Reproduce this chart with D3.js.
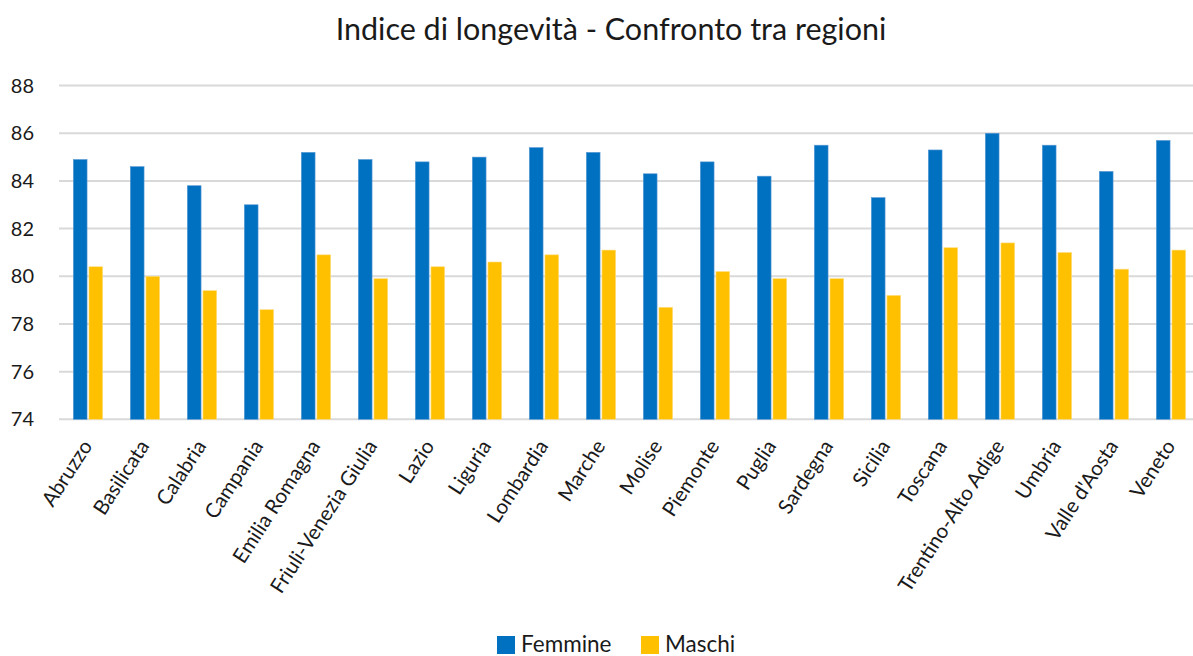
<!DOCTYPE html>
<html>
<head>
<meta charset="utf-8">
<script src="https://cdn.jsdelivr.net/npm/d3@7"></script>
<style>
  body { margin: 0; background: #fff; }
  text { font-family: Lato, "Open Sans", sans-serif; fill: #1a1a1a; }
</style>
</head>
<body>
<script>
// Indice di longevità per regione
var regions = ["Abruzzo", "Basilicata", "Calabria", "Campania", "Emilia Romagna",
  "Friuli-Venezia Giulia", "Lazio", "Liguria", "Lombardia", "Marche", "Molise",
  "Piemonte", "Puglia", "Sardegna", "Sicilia", "Toscana", "Trentino-Alto Adige",
  "Umbria", "Valle d'Aosta", "Veneto"];
var femmine = [84.9, 84.6, 83.8, 83.0, 85.2, 84.9, 84.8, 85.0, 85.4, 85.2, 84.3,
  84.8, 84.2, 85.5, 83.3, 85.3, 86.0, 85.5, 84.4, 85.7];
var maschi = [80.4, 80.0, 79.4, 78.6, 80.9, 79.9, 80.4, 80.6, 80.9, 81.1, 78.7,
  80.2, 79.9, 79.9, 79.2, 81.2, 81.4, 81.0, 80.3, 81.1];
var yTicks = [74, 76, 78, 80, 82, 84, 86, 88];
var seriesNames = ["Femmine", "Maschi"];
var colors = ["#0070C0", "#FFC000"];

var width = 1193, height = 656;
var svg = d3.select('body').append('svg')
  .attr('width', width)
  .attr('height', height);

var xScale = d3.scaleBand()
  .domain(regions)
  .range([59.5, 1199.5]);

var yScale = d3.scaleLinear()
  .domain([74, 88])
  .range([419.3, 85.6]);

var subScale = d3.scaleBand()
  .domain(seriesNames)
  .range([-14.7, 14.7])
  .paddingInner(0.12);

// gridlines
svg.append('g')
  .selectAll('line')
  .data(yTicks)
  .enter()
  .append('line')
  .attr('x1', 59)
  .attr('x2', width)
  .attr('y1', function(d) { return yScale(d); })
  .attr('y2', function(d) { return yScale(d); })
  .attr('stroke', '#d9d9d9')
  .attr('stroke-width', 2);

// y axis labels
var yAxis = d3.axisLeft(yScale).tickValues(yTicks).tickSize(0).tickPadding(0);
var yAxisNodes = svg.append('g')
  .attr('transform', 'translate(34,0)')
  .call(yAxis);
yAxisNodes.select('.domain').remove();
yAxisNodes.selectAll('text')
  .attr('font-size', 20)
  .attr('font-family', 'Lato, sans-serif')
  .attr('fill', '#1a1a1a');

// bars
var seriesData = [femmine, maschi];
seriesData.forEach(function(values, si) {
  svg.append('g')
    .selectAll('rect')
    .data(values)
    .enter()
    .append('rect')
    .attr('x', function(d, i) {
      return xScale(regions[i]) + xScale.bandwidth() / 2 + subScale(seriesNames[si]);
    })
    .attr('y', function(d) { return yScale(d); })
    .attr('width', subScale.bandwidth())
    .attr('height', function(d) { return yScale(74) - yScale(d); })
    .attr('fill', colors[si])
    .attr('stroke', si === 0 ? '#5b9bd5' : '#ffe08a')
    .attr('stroke-width', 0.6);
});

// x axis labels
var xAxis = d3.axisBottom(xScale).tickSize(0).tickPadding(0);
var xAxisNodes = svg.append('g')
  .attr('transform', 'translate(0,' + 442 + ')')
  .call(xAxis);
xAxisNodes.select('.domain').remove();
xAxisNodes.selectAll('text')
  .attr('font-size', 20.5)
  .attr('font-family', 'Lato, sans-serif')
  .attr('fill', '#1a1a1a')
  .attr('text-anchor', 'end')
  .attr('dy', '0.35em')
  .attr('transform', 'translate(-1,0) rotate(-57)');

// title
svg.append('text')
  .attr('x', 611)
  .attr('y', 40)
  .attr('text-anchor', 'middle')
  .attr('font-size', 30.5)
  .text('Indice di longevità - Confronto tra regioni');

// legend
var legend = svg.append('g')
  .attr('transform', 'translate(497,636)');
var legendX = [0, 144];
seriesNames.forEach(function(name, i) {
  legend.append('rect')
    .attr('x', legendX[i])
    .attr('y', 0)
    .attr('width', 18)
    .attr('height', 18)
    .attr('fill', colors[i]);
  legend.append('text')
    .attr('x', legendX[i] + 24)
    .attr('y', 16)
    .attr('font-size', 22.5)
    .text(name);
});
</script>
</body>
</html>
